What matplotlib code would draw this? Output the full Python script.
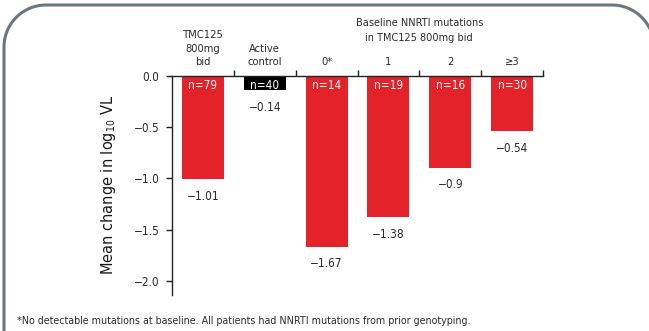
import matplotlib
matplotlib.use("Agg")
import numpy as np
import matplotlib.pyplot as plt
from matplotlib import font_manager

# ── Data ───────────────────────────────────────────────────────────────────────
categories = ['TMC125\n800mg\nbid', 'Active\ncontrol', '0*', '1', '2', '≥3']
mean_change = [-1.01, -0.14, -1.67, -1.38, -0.9, -0.54]
n_labels = ['n=79', 'n=40', 'n=14', 'n=19', 'n=16', 'n=30']
value_labels = ['\u22121.01', '\u22120.14', '\u22121.67', '\u22121.38', '\u22120.9', '\u22120.54']
yticks = [0.0, -0.5, -1.0, -1.5, -2.0]
ytick_labels = ['0.0', '\u22120.5', '\u22121.0', '\u22121.5', '\u22122.0']
group_title = 'Baseline NNRTI mutations\nin TMC125 800mg bid'
footnote = ('*No detectable mutations at baseline. All patients had NNRTI '
            'mutations from prior genotyping.')

RED = '#e3222a'
bar_colors = [RED, 'black', RED, RED, RED, RED]
TXT = '#2b2b2b'

names = {f.name for f in font_manager.fontManager.ttflist}
fam = ['Liberation Sans Narrow'] if 'Liberation Sans Narrow' in names else []
plt.rcParams['font.family'] = fam + ['DejaVu Sans']
plt.rcParams['font.stretch'] = 'condensed'

fig = plt.figure(figsize=(6.49, 3.31), dpi=100)

# ── Rounded border (pixel space, y up) ─────────────────────────────────────────
bg = fig.add_axes([0, 0, 1, 1], zorder=0)
bg.set_xlim(0, 649)
bg.set_ylim(0, 331)
bg.axis('off')
r, left, right, top, bot = 42, 4, 654, 326, -60
t1 = np.linspace(np.pi, np.pi / 2, 40)
t2 = np.linspace(np.pi / 2, 0, 40)
bx = np.concatenate([[left], left + r + r * np.cos(t1), right - r + r * np.cos(t2), [right]])
by = np.concatenate([[bot], top - r + r * np.sin(t1), top - r + r * np.sin(t2), [bot]])
bg.plot(bx, by, color='#6b7780', lw=2.2, solid_capstyle='butt')

# ── Main axes ──────────────────────────────────────────────────────────────────
ax = fig.add_axes([172/649, 1 - 295/331, (543 - 172)/649, (295 - 76)/331], zorder=1)
ax.patch.set_alpha(0)
x = range(len(categories))
ax.bar(x, mean_change, width=0.68, color=bar_colors)
ax.set_xlim(-0.5, 5.5)
ax.set_ylim(-2.14, 0)

for s in ['right', 'bottom']:
    ax.spines[s].set_visible(False)
for s in ['left', 'top']:
    ax.spines[s].set_color('#222222')
    ax.spines[s].set_linewidth(1.0)

ax.xaxis.tick_top()
ax.set_xticks([0.5, 1.5, 2.5, 3.5, 4.5, 5.5])
ax.set_xticklabels([])
ax.tick_params(axis='x', direction='out', length=4, width=1, color='#222222')
ax.set_yticks(yticks)
ax.set_yticklabels(ytick_labels)
ax.tick_params(axis='y', direction='out', length=4, width=1, color='#222222',
               labelsize=8.5, labelcolor=TXT, pad=5)

for i, (cat, v) in enumerate(zip(categories, mean_change)):
    ax.text(i, 0.085, cat, ha='center', va='bottom', fontsize=8,
            color=TXT, linespacing=1.45)
    ax.text(i, -0.095, n_labels[i], ha='center', va='center', fontsize=8.5, color='white')
    ax.text(i, v - 0.165, value_labels[i], ha='center', va='center', fontsize=8.5, color=TXT)

ax.text(3.5, 0.32, group_title, ha='center', va='bottom', fontsize=7.8,
        color=TXT, linespacing=1.6)

fig.text(108/649, 1 - 185/331, 'Mean change in log$_{10}$ VL', rotation=90,
         ha='center', va='center', fontsize=10.5, color='#1a1a1a',
         fontstretch='normal')
fig.text(17/649, 1 - 321/331, footnote, ha='left', va='center', fontsize=7.65, color=TXT)

fig.savefig('out.png', dpi=100)
